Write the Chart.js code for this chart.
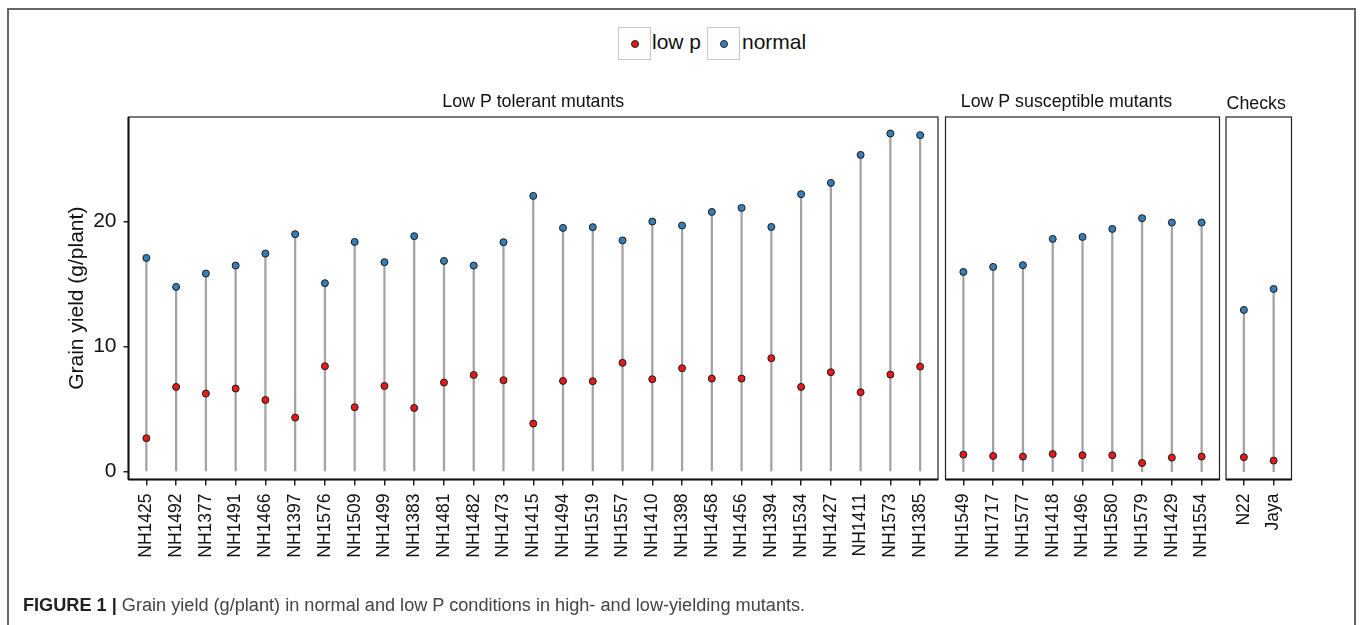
<!DOCTYPE html>
<html>
<head>
<meta charset="utf-8">
<script src="https://cdn.jsdelivr.net/npm/chart.js@4.4.1/dist/chart.umd.min.js"></script>
<style>
html,body{margin:0;padding:0;background:#fff;overflow:hidden;width:1360px;height:625px;}
#wrap{position:relative;width:1360px;height:625px;overflow:hidden;font-family:"Liberation Sans",Arial,sans-serif;}
#frame{position:absolute;left:7px;top:8px;width:1349px;height:700px;border:2px solid #666;box-sizing:border-box;}
canvas{position:absolute;left:0;top:0;}
.lgbox{position:absolute;top:27px;width:33px;height:33px;border:1px solid #c8c8c8;box-sizing:border-box;}
.dot{position:absolute;left:50%;top:50%;width:8px;height:8px;margin:-4px 0 0 -4px;border-radius:50%;border:1px solid #222;box-sizing:border-box;}
.lgtxt{position:absolute;top:31px;font-size:21px;line-height:21px;color:#111;white-space:nowrap;}
#caption{position:absolute;left:23px;top:596px;font-size:18.15px;line-height:18px;color:#444;white-space:nowrap;}
#caption b{color:#222;}
</style>
</head>
<body>
<div id="wrap">
  <div id="frame"></div>
  <div class="lgbox" style="left:618px"><div class="dot" id="dotLow"></div></div>
  <div class="lgtxt" id="txtLow" style="left:652px"></div>
  <div class="lgbox" style="left:707px"><div class="dot" id="dotNormal"></div></div>
  <div class="lgtxt" id="txtNormal" style="left:742px"></div>
  <canvas id="c1" width="1360" height="625"></canvas>
  <canvas id="c2" width="1360" height="625"></canvas>
  <canvas id="c3" width="1360" height="625"></canvas>
  <div id="caption"><b>FIGURE 1 |</b> Grain yield (g/plant) in normal and low P conditions in high- and low-yielding mutants.</div>
</div>
<script>
// ---- data ----
const seriesNames = ["low p", "normal"];
const panelTitles = ["Low P tolerant mutants", "Low P susceptible mutants", "Checks"];
const yAxisTitle = "Grain yield (g/plant)";
const yTicks = [0, 10, 20];

const tolerantGenotypes = ["NH1425","NH1492","NH1377","NH1491","NH1466","NH1397","NH1576","NH1509","NH1499","NH1383","NH1481","NH1482","NH1473","NH1415","NH1494","NH1519","NH1557","NH1410","NH1398","NH1458","NH1456","NH1394","NH1534","NH1427","NH1411","NH1573","NH1385"];
const tolerantNormal = [17.09,14.77,15.84,16.48,17.44,18.99,15.07,18.37,16.75,18.83,16.85,16.48,18.35,22.05,19.49,19.55,18.49,20.0,19.68,20.77,21.09,19.57,22.19,23.09,25.33,27.04,26.91];
const tolerantLowP = [2.67,6.77,6.24,6.64,5.73,4.32,8.43,5.15,6.85,5.09,7.12,7.73,7.31,3.84,7.25,7.23,8.70,7.39,8.27,7.44,7.44,9.07,6.77,7.95,6.35,7.76,8.40];

const susceptibleGenotypes = ["NH1549","NH1717","NH1577","NH1418","NH1496","NH1580","NH1579","NH1429","NH1554"];
const susceptibleNormal = [15.97,16.37,16.51,18.61,18.77,19.41,20.27,19.92,19.92];
const susceptibleLowP = [1.36,1.25,1.20,1.41,1.31,1.31,0.69,1.12,1.20];

const checkGenotypes = ["N22","Jaya"];
const checkNormal = [12.93,14.61];
const checkLowP = [1.15,0.88];

// ---- style ----
const FONT = '"Liberation Sans", Arial, sans-serif';
const COLOR_LOW = '#E41A1C';
const COLOR_NORMAL = '#377EB8';
const STEM = '#a3a3a3';
Chart.defaults.font.family = FONT;

document.getElementById('dotLow').style.background = COLOR_LOW;
document.getElementById('dotNormal').style.background = COLOR_NORMAL;
document.getElementById('txtLow').textContent = seriesNames[0];
document.getElementById('txtNormal').textContent = seriesNames[1];

const PANEL_TOP = 117, PANEL_BOTTOM = 479.5, XAXIS_H = 100;
const panels = [
  {left:128.5, right:938, titleDx:0, titleDy:10.5},
  {left:945.5, right:1219.5, titleDx:-16, titleDy:10},
  {left:1226, right:1291.5, titleDx:-2.5, titleDy:8.5}
];

const panelPlugin = {
  id: 'panelBox',
  afterDraw(chart, args, opts) {
    const {ctx, chartArea: a} = chart;
    ctx.save();
    ctx.strokeStyle = '#222';
    ctx.lineWidth = 1.2;
    ctx.strokeRect(a.left, a.top, a.right - a.left, a.bottom - a.top);
    ctx.lineWidth = 2;
    ctx.strokeStyle = '#111';
    ctx.beginPath();
    ctx.moveTo(a.left, a.bottom); ctx.lineTo(a.right, a.bottom);
    if (opts.axisLeft) { ctx.moveTo(a.left, a.top); ctx.lineTo(a.left, a.bottom); }
    ctx.stroke();
    ctx.fillStyle = '#111';
    ctx.font = '17.8px ' + FONT;
    ctx.textAlign = 'center';
    ctx.textBaseline = 'alphabetic';
    ctx.fillText(opts.title, (a.left + a.right) / 2 + opts.dx, a.top - opts.dy);
    ctx.restore();
  }
};

function makePanel(id, idx, cats, normal, low, showY) {
  const p = panels[idx];
  const padLeft = showY ? 0 : p.left;
  new Chart(document.getElementById(id), {
    type: 'bar',
    data: {
      datasets: [
        {type:'scatter', label: seriesNames[0], data: cats.map((c,i)=>({x:i, y:low[i]})),
         backgroundColor: COLOR_LOW, borderColor:'#1a1a1a', borderWidth:1, pointRadius:3.5, order:1},
        {type:'scatter', label: seriesNames[1], data: cats.map((c,i)=>({x:i, y:normal[i]})),
         backgroundColor: COLOR_NORMAL, borderColor:'#1a1a1a', borderWidth:1, pointRadius:3.5, order:2},
        {type:'bar', label:'stem', data: cats.map((c,i)=>({x:i, y:[0, normal[i]]})),
         backgroundColor: STEM, borderWidth:0, barThickness:1.6, order:3}
      ]
    },
    options: {
      responsive:false, animation:false, events:[],
      layout:{padding:{left:padLeft, right:1360 - p.right, top:PANEL_TOP, bottom:625 - PANEL_BOTTOM - XAXIS_H}},
      plugins:{
        legend:{display:false}, tooltip:{enabled:false},
        panelBox:{title: panelTitles[idx], dx: p.titleDx, dy: p.titleDy, axisLeft: showY}
      },
      scales:{
        x:{type:'linear', bounds:'data', offset:false, min:-0.6, max:cats.length - 0.4,
          afterBuildTicks: s => { s.ticks = cats.map((c,i)=>({value:i})); },
          afterFit: s => { s.height = XAXIS_H; },
          grid:{display:true, offset:false, drawOnChartArea:false, drawTicks:true, tickLength:6, color:'#222', lineWidth:1.5},
          border:{display:false},
          ticks:{autoSkip:false, minRotation:90, maxRotation:90, font:{size:17.5}, color:'#111', padding:8,
                 callback: v => cats[v]}
        },
        y:{type:'linear', bounds:'data', min:-0.63, max:28.36, display: showY,
          afterBuildTicks: s => { s.ticks = yTicks.map(v=>({value:v})); },
          afterFit: s => { if (showY) s.width = p.left; },
          grid:{display:true, drawOnChartArea:false, drawTicks:true, tickLength:5, color:'#222', lineWidth:1.5},
          border:{display:false},
          ticks:{font:{size:21}, color:'#111', padding:7},
          title:{display:true, text:yAxisTitle, font:{size:21}, color:'#111', padding:{top:65, bottom:0}}
        }
      }
    },
    plugins:[panelPlugin]
  });
}

makePanel('c1', 0, tolerantGenotypes, tolerantNormal, tolerantLowP, true);
makePanel('c2', 1, susceptibleGenotypes, susceptibleNormal, susceptibleLowP, false);
makePanel('c3', 2, checkGenotypes, checkNormal, checkLowP, false);
</script>
</body>
</html>
